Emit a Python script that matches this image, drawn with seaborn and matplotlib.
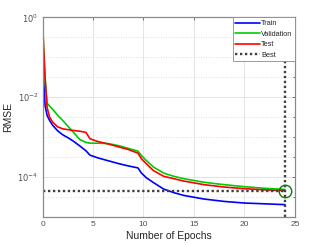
import numpy as np
import pandas as pd
import matplotlib
matplotlib.use('Agg')
import matplotlib.pyplot as plt
import matplotlib.ticker as mticker
import seaborn as sns

epochs = [0, 0.1, 0.25, 0.45, 0.7, 1, 1.5, 2, 2.5, 3, 3.7, 4.3, 4.7, 5.5, 6.5,
          7.5, 8.5, 9.45, 9.8, 10.3, 11, 12, 13, 14, 16, 18, 20, 22, 24]

# log10(RMSE) of each series
train_log10 = [0, -1.5, -2.2, -2.45, -2.58, -2.7, -2.84, -2.94, -3.01, -3.09, -3.22,
               -3.34, -3.45, -3.52, -3.59, -3.66, -3.72, -3.77, -3.9, -4.02, -4.14,
               -4.3, -4.39, -4.46, -4.55, -4.61, -4.65, -4.67, -4.69]
val_log10 = [0, -0.7, -1.5, -2.15, -2.22, -2.3, -2.45, -2.58, -2.72, -2.86, -3.06,
             -3.13, -3.15, -3.15, -3.16, -3.21, -3.28, -3.35, -3.46, -3.59, -3.75,
             -3.9, -3.98, -4.04, -4.13, -4.19, -4.24, -4.28, -4.31]
test_log10 = [0, -0.7, -1.5, -2.25, -2.5, -2.62, -2.74, -2.79, -2.81, -2.83, -2.85,
              -2.88, -3.04, -3.11, -3.17, -3.24, -3.31, -3.4, -3.54, -3.67, -3.84,
              -3.98, -4.04, -4.1, -4.19, -4.25, -4.29, -4.32, -4.34]

best_epoch = 24
best_val = 10 ** -4.34

series_names = ['Train', 'Validation', 'Test']
series_colors = ['#0000ff', '#00cc00', '#ff0000']

df = pd.DataFrame({
    'epoch': epochs * 3,
    'rmse': 10 ** np.array(train_log10 + val_log10 + test_log10),
    'set': sum([[n] * len(epochs) for n in series_names], []),
})

sns.set_style('white')
plt.rcParams['font.family'] = ['Liberation Sans', 'DejaVu Sans']

fig = plt.figure(figsize=(3.27, 2.45), dpi=100)
ax = fig.add_axes([0.13, 0.1143, 0.772, 0.8143])

sns.lineplot(data=df, x='epoch', y='rmse', hue='set', hue_order=series_names,
             palette=series_colors, linewidth=1.2, ax=ax, legend=False)

best_style = dict(color='#404040', linewidth=1.7, linestyle=(0, (1, 1.1)))
ax.plot([0, best_epoch], [best_val, best_val], **best_style)
ax.axvline(best_epoch, **best_style)
ax.plot([best_epoch], [best_val], marker='o', markersize=9, markerfacecolor='none',
        markeredgecolor='#008000', markeredgewidth=1.0, linestyle='none')

ax.set_yscale('log')
ax.set_xlim(0, 25)
ax.set_ylim(1e-5, 1)
ax.set_xticks([0, 5, 10, 15, 20, 25])
ax.yaxis.set_major_locator(mticker.FixedLocator([1e-4, 1e-2, 1]))
ax.yaxis.set_minor_locator(mticker.FixedLocator(
    [10 ** p for p in [-4.5, -3.5, -3, -2.5, -1.5, -1, -0.5]]))
ax.yaxis.set_minor_formatter(mticker.NullFormatter())
ax.yaxis.set_major_formatter(mticker.FuncFormatter(
    lambda v, _: r'$10^{%d}$' % round(np.log10(v))))

ax.grid(True, which='major', color='#e3e3e3', linewidth=0.7, linestyle='-')
ax.grid(True, which='minor', axis='y', color='#d0d0d0', linewidth=0.6, linestyle=(0, (1, 2)))
ax.set_axisbelow(True)

ax.tick_params(which='both', direction='in', top=True, right=True, labelsize=6,
               colors='#606060', labelcolor='#505050', length=2.5, width=0.6, pad=3)
ax.tick_params(which='minor', length=1.5)
for s in ax.spines.values():
    s.set_color('#8a8a8a')
    s.set_linewidth(0.9)

ax.set_xlabel('Number of Epochs', fontsize=7.5, color='#262626', labelpad=2)
ax.set_ylabel('RMSE', fontsize=7.5, color='#262626', labelpad=3)

handles = [plt.Line2D([], [], color=c, linewidth=1.2) for c in series_colors]
handles.append(plt.Line2D([], [], **best_style))
leg = ax.legend(handles, series_names + ['Best'], loc='upper right', fontsize=5.3,
                frameon=True, fancybox=False, borderaxespad=0, handlelength=3.3,
                handletextpad=0.2, labelspacing=0.45, borderpad=0.35)
leg.get_frame().set_edgecolor('#8a8a8a')
leg.get_frame().set_linewidth(0.6)
leg.get_frame().set_alpha(1)

fig.savefig('out.png', dpi=100)
